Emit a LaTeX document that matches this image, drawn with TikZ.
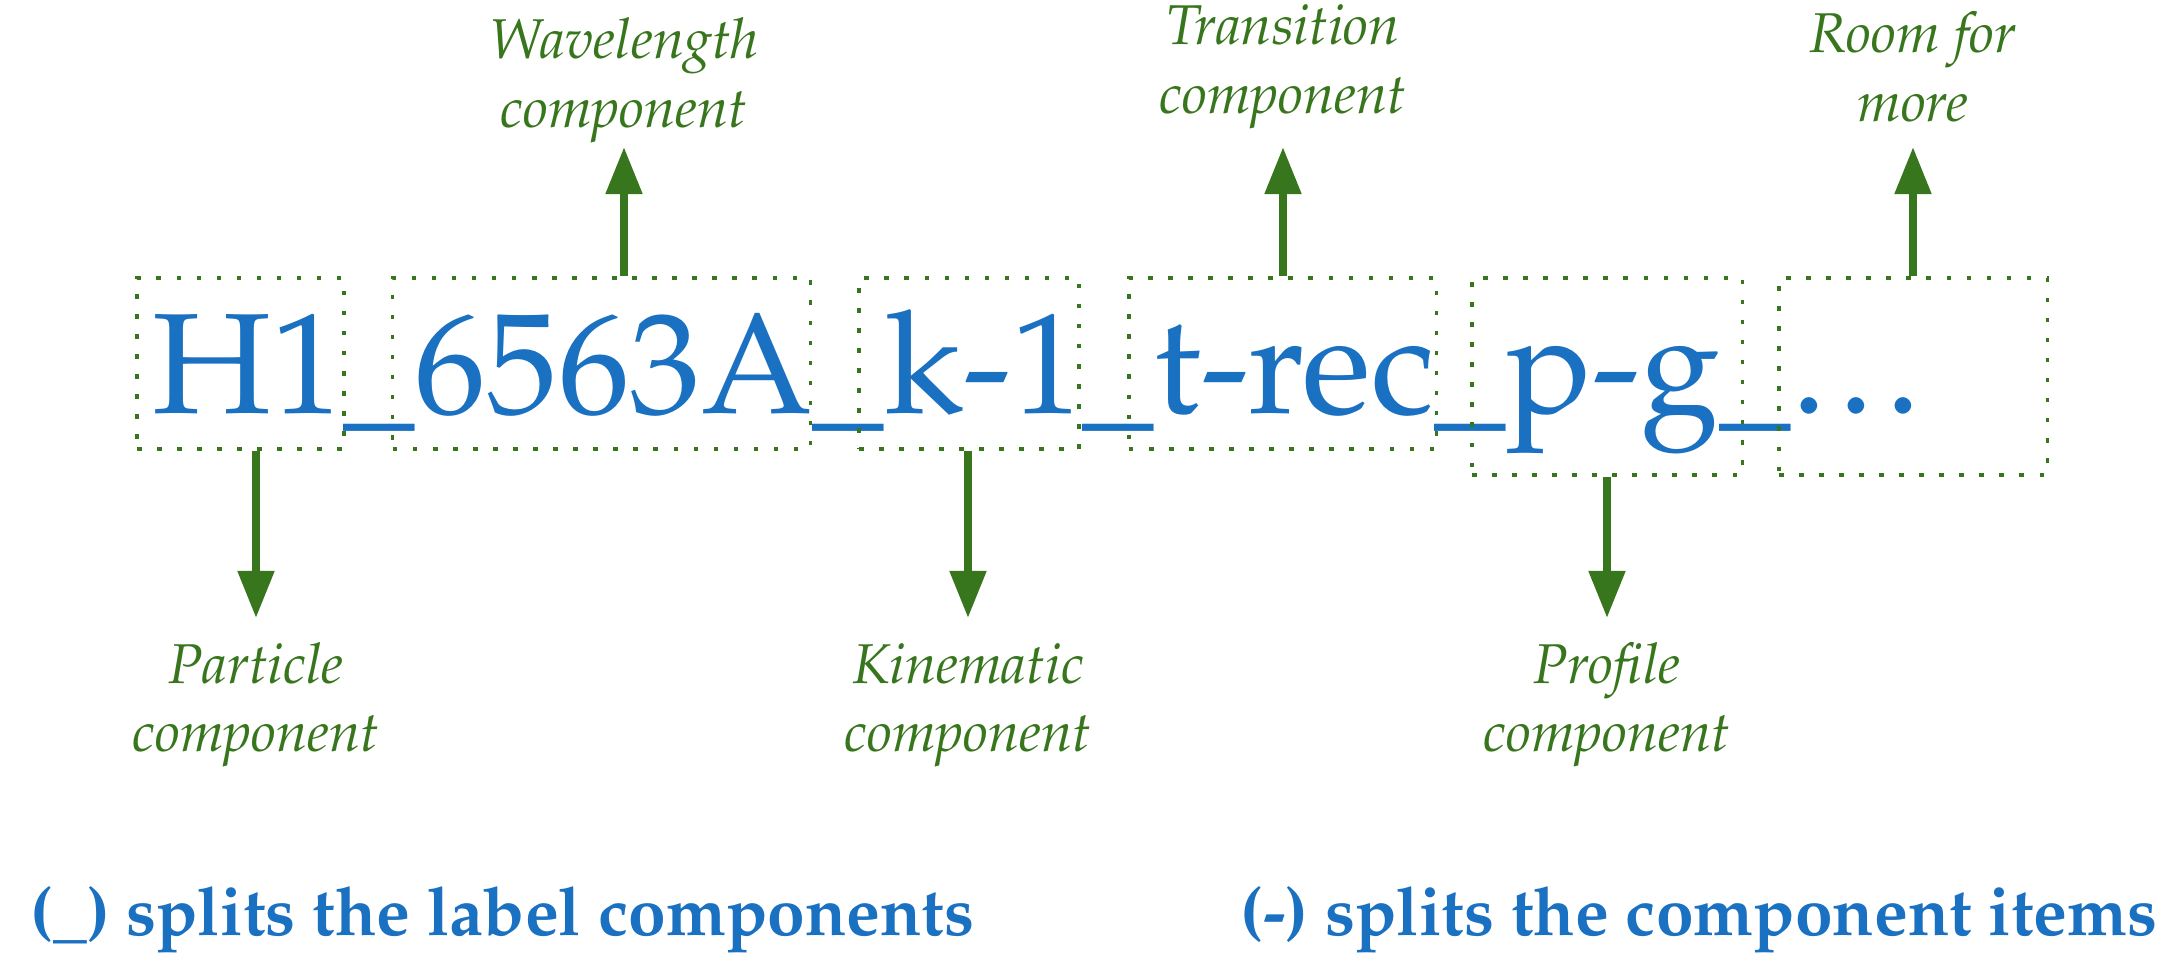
\documentclass[tikz,border=0pt]{standalone}
\usepackage[T1]{fontenc}
\renewcommand{\rmdefault}{ppl}
\usetikzlibrary{arrows.meta}
\definecolor{tblue}{RGB}{26,112,193}
\definecolor{tgreen}{RGB}{56,118,29}
\tikzset{
  compbox/.style={draw=tgreen, line width=0.9pt, dash pattern=on 1.3pt off 4.4pt, inner sep=0pt, rectangle},
  arr/.style={draw=tgreen, line width=2.3pt, -{Triangle[length=0.47cm,width=0.35cm]}},
  lab/.style={text=tgreen, font=\fontsize{15.95pt}{19.4pt}\selectfont\itshape, inner sep=0pt, anchor=base},
  big/.style={text=tblue, font=\fontsize{40.7pt}{48pt}\selectfont, inner sep=0pt},
  note/.style={text=tblue, font=\fontsize{19.25pt}{23pt}\selectfont\bfseries, inner sep=0pt, anchor=base west},
}
\newcommand{\twolines}[2]{\begin{tabular}[t]{@{}c@{}}#1\\#2\end{tabular}}
\newcommand{\mydots}{.\kern0.08em.\kern0.08em.}
\begin{document}
\begin{tikzpicture}[x=0.01cm,y=-0.01cm]
\useasboundingbox (0,0) rectangle (2178,967);

% main label
\node[big, anchor=base west] (lbl) at (152,414) {H1\_6563A\_k-1\_t-rec\_p-g\_\mydots};

% component boxes
\node[compbox, minimum width=2.07cm, minimum height=1.71cm] (b1) at (240.5,363.5) {};
\node[compbox, minimum width=4.17cm, minimum height=1.71cm] (b2) at (601.5,363.5) {};
\node[compbox, minimum width=2.20cm, minimum height=1.71cm] (b3) at (969,363.5) {};
\node[compbox, minimum width=3.07cm, minimum height=1.71cm] (b4) at (1282.5,363.5) {};
\node[compbox, minimum width=2.70cm, minimum height=1.97cm] (b5) at (1607,376.5) {};
\node[compbox, minimum width=2.68cm, minimum height=1.97cm] (b6) at (1913,376.5) {};

% labels above
\node[lab] (wl) at (624,59) {\twolines{Wavelength}{component}};
\node[lab] (tr) at (1283,45) {\twolines{Transition}{component}};
\node[lab] (rm) at (1913,53) {\twolines{Room for}{more}};
% labels below
\node[lab] (pa) at (256,683) {\twolines{Particle}{component}};
\node[lab] (ki) at (968,683) {\twolines{Kinematic}{component}};
\node[lab] (pr) at (1607,683) {\twolines{Profile}{component}};

% arrow tips
\coordinate (wlt) at (624,147);
\coordinate (trt) at (1283,147);
\coordinate (rmt) at (1913,147);
\coordinate (pat) at (256,618);
\coordinate (kit) at (968,618);
\coordinate (prt) at (1607,618);

\draw[arr] (wlt |- b2.north) -- (wlt);
\draw[arr] (trt |- b4.north) -- (trt);
\draw[arr] (rmt |- b6.north) -- (rmt);
\draw[arr] (pat |- b1.south) -- (pat);
\draw[arr] (kit |- b3.south) -- (kit);
\draw[arr] (prt |- b5.south) -- (prt);

% notes
\node[note] (n1) at (30,935) {(\_) splits the label components};
\node[note] (n2) at (1240,935) {(-) splits the component items};
\end{tikzpicture}
\end{document}
